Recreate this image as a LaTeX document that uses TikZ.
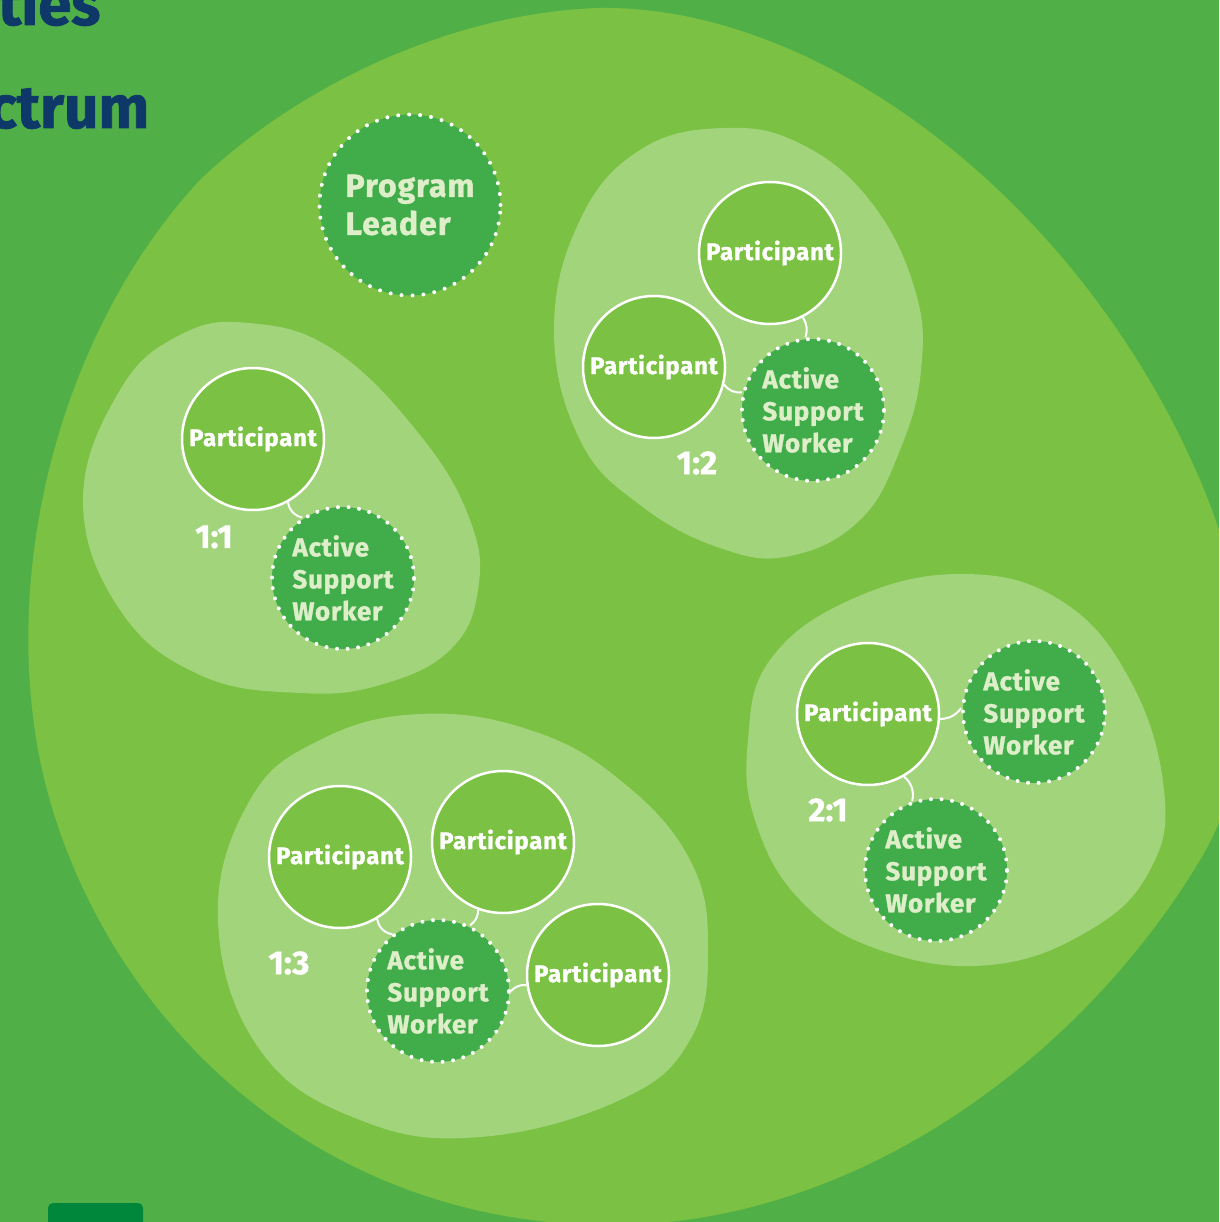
\documentclass[tikz,border=0pt]{standalone}
\usepackage{fontspec}
\setmainfont{Fira Sans}[BoldFeatures={FakeBold=1.2}]
\definecolor{bggreen}{HTML}{50B047}
\definecolor{blobgreen}{HTML}{7BC143}
\definecolor{lightblob}{HTML}{A1D47B}
\definecolor{darkgreen}{HTML}{40AC4A}
\definecolor{paletext}{HTML}{DDEEC8}
\definecolor{navy}{HTML}{0D3868}
\definecolor{deepgreen}{HTML}{00873C}
\begin{document}
\begin{tikzpicture}[x=1pt,y=-1pt,
  partc/.style={circle, draw=white, line width=2.5pt, fill=blobgreen, text=white,
    font=\bfseries\fontsize{24}{28}\selectfont\addfontfeatures{LetterSpace=3}, inner sep=0pt, minimum size=142pt},
  aswc/.style={circle, fill=darkgreen, draw=white, line width=4pt, line cap=round,
    dash pattern=on 0pt off 10.6pt, text=paletext, align=left,
    font=\bfseries\fontsize{26}{32}\selectfont\addfontfeatures{LetterSpace=3}, inner sep=0pt, minimum size=142pt},
  leadc/.style={aswc, minimum size=181pt, dash pattern=on 0pt off 11pt,
    font=\bfseries\fontsize{32}{38}\selectfont\addfontfeatures{LetterSpace=3}},
  ratio/.style={text=white, font=\bfseries\fontsize{33}{36}\selectfont, inner sep=0pt},
  conn/.style={draw=white, line width=2pt},
  titletext/.style={text=navy, font=\fontsize{60}{60}\selectfont\bfseries, inner sep=0pt, anchor=base west}
]
\useasboundingbox (0,0) rectangle (1219,1222);
\clip (0,0) rectangle (1219,1222);
\fill[bggreen] (0,0) rectangle (1219,1222);

% title fragments
\node[titletext] (t1) at (-2,25) {ties};
\node[titletext] (t2) at (-12,128) {ctrum};

% bottom-left tab
\fill[deepgreen, rounded corners=5pt] (48,1203) rectangle (143,1240);

% big blob
\fill[blobgreen] (600,8)
  .. controls (820,5) and (1080,200) .. (1200,480)
  .. controls (1260,620) and (1260,760) .. (1200,860)
  .. controls (1080,1060) and (850,1230) .. (600,1225)
  .. controls (300,1220) and (90,1000) .. (40,760)
  .. controls (0,560) and (65,325) .. (200,180)
  .. controls (305,80) and (460,12) .. (600,8) -- cycle;

% light blobs
\fill[lightblob] plot[smooth cycle, tension=0.7] coordinates {
  (249,323) (334,350) (420,435) (470,520) (478,590) (450,650) (380,685)
  (300,693) (200,675) (120,610) (83,500) (120,390) (180,335)};
\fill[lightblob] plot[smooth cycle, tension=0.7] coordinates {
  (723,128) (801,144) (871,202) (915,290) (921,370) (900,450) (860,520)
  (790,556) (720,548) (640,505) (580,440) (554,330) (580,220) (640,150)};
\fill[lightblob] plot[smooth cycle, tension=0.7] coordinates {
  (748,740) (770,660) (850,600) (960,574) (1060,600) (1130,680) (1164,790)
  (1150,870) (1090,930) (990,965) (880,950) (800,900) (755,820)};
\fill[lightblob] plot[smooth cycle, tension=0.7] coordinates {
  (420,714) (530,730) (620,780) (690,860) (708,950) (690,1040) (620,1100)
  (480,1137) (360,1120) (260,1050) (218,920) (250,800) (320,740)};

% program leader
\node[leadc] (pl) at (410,205) {Program\\Leader};

% 1:1
\node[partc] (p11) at (253,439) {Participant};
\node[aswc] (a11) at (343,578) {Active\\Support\\Worker};
\node[ratio] (r11) at (214,537) {1:1};

% 1:2
\node[partc] (p12a) at (770,253) {Participant};
\node[partc] (p12b) at (654,367) {Participant};
\node[aswc] (a12) at (813,410) {Active\\Support\\Worker};
\node[ratio] (r12) at (697,463) {1:2};

% 2:1
\node[partc] (p21) at (868,714) {Participant};
\node[aswc] (a21a) at (1034,712) {Active\\Support\\Worker};
\node[aswc] (a21b) at (936,870) {Active\\Support\\Worker};
\node[ratio] (r21) at (828,810) {2:1};

% 1:3
\node[partc] (p13a) at (340,857) {Participant};
\node[partc] (p13b) at (503,842) {Participant};
\node[partc] (p13c) at (598,975) {Participant};
\node[aswc] (a13) at (438,991) {Active\\Support\\Worker};
\node[ratio] (r13) at (289,963) {1:3};

% connectors
\draw[conn] (p11.-61) to[bend right=35] (a11.124);
\draw[conn] (p12a.-63) to[bend left=25] (a12.96);
\draw[conn] (p12b.-14) to[bend right=30] (a12.166);
\draw[conn] (p21.-4) to[bend right=25] (a21a.177);
\draw[conn] (p21.-60) to[bend left=30] (a21b.109);
\draw[conn] (p13a.-59) to[bend right=35] (a13.129);
\draw[conn] (p13b.-110) to[bend left=25] (a13.64);
\draw[conn] (p13c.188) to[bend right=25] (a13.0);
\end{tikzpicture}
\end{document}
